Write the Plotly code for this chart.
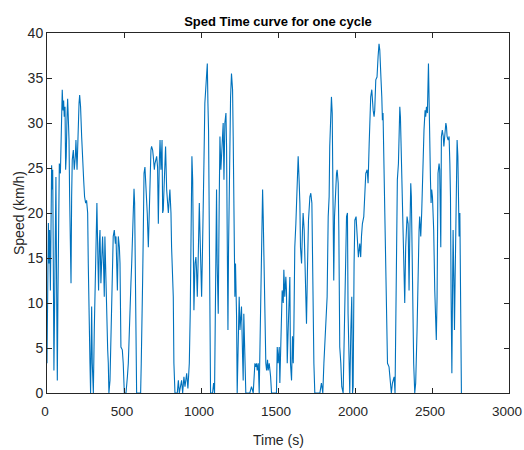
import plotly.graph_objects as go

title_text = "Sped Time curve for one cycle"
x_label = "Time (s)"
y_label = "Speed (km/h)"
x_ticks = [0, 500, 1000, 1500, 2000, 2500, 3000]
y_ticks = [0, 5, 10, 15, 20, 25, 30, 35, 40]

time_s = [
    0, 4, 9, 13, 17, 22, 26, 30, 35, 37, 41, 45, 50, 54, 58, 63, 67, 71, 76, 80,
    87, 91, 95, 99, 104, 108, 112, 117, 121, 125, 130, 134, 138, 143, 147, 151, 156, 160, 164, 171,
    177, 184, 188, 195, 201, 208, 212, 218, 225, 231, 238, 244, 251, 257, 264, 268, 273, 279, 283, 290,
    294, 301, 307, 314, 320, 324, 331, 335, 340, 344, 350, 355, 361, 368, 372, 376, 383, 387, 394, 398,
    402, 409, 415, 420, 426, 430, 437, 444, 448, 457, 463, 470, 474, 480, 489, 495, 502, 513, 522, 528,
    535, 539, 545, 550, 556, 561, 565, 569, 574, 578, 582, 599, 608, 612, 617, 621, 625, 630, 636, 643,
    647, 651, 658, 664, 669, 675, 679, 686, 690, 697, 701, 708, 712, 718, 723, 729, 734, 740, 747, 751,
    755, 762, 770, 777, 783, 788, 798, 805, 809, 816, 820, 824, 831, 846, 853, 859, 868, 874, 881, 889,
    896, 907, 915, 924, 930, 935, 939, 941, 946, 950, 954, 961, 967, 971, 976, 982, 989, 993, 1000, 1004,
    1010, 1015, 1019, 1025, 1032, 1036, 1041, 1045, 1049, 1054, 1058, 1062, 1075, 1082, 1088, 1092, 1097, 1101, 1105, 1112,
    1118, 1123, 1129, 1136, 1140, 1144, 1149, 1155, 1162, 1166, 1170, 1175, 1179, 1183, 1188, 1192, 1198, 1205, 1209, 1214,
    1220, 1224, 1231, 1235, 1242, 1248, 1253, 1259, 1263, 1270, 1274, 1278, 1285, 1291, 1317, 1328, 1339, 1350, 1356, 1361,
    1365, 1372, 1378, 1385, 1389, 1393, 1400, 1404, 1408, 1415, 1421, 1426, 1432, 1436, 1443, 1452, 1458, 1490, 1495, 1501,
    1508, 1512, 1519, 1527, 1534, 1538, 1544, 1551, 1555, 1560, 1566, 1573, 1577, 1581, 1588, 1594, 1599, 1603, 1609, 1616,
    1624, 1631, 1637, 1642, 1646, 1653, 1659, 1663, 1670, 1676, 1685, 1692, 1698, 1707, 1713, 1720, 1724, 1728, 1733, 1739,
    1772, 1782, 1791, 1798, 1804, 1810, 1819, 1826, 1832, 1836, 1843, 1847, 1852, 1854, 1858, 1862, 1867, 1871, 1875, 1880,
    1884, 1891, 1895, 1901, 1908, 1914, 1923, 1929, 1936, 1945, 1951, 1955, 1962, 1966, 1973, 1979, 1984, 1988, 1994, 1999,
    2007, 2016, 2022, 2031, 2037, 2042, 2048, 2057, 2063, 2070, 2079, 2085, 2092, 2096, 2102, 2109, 2113, 2118, 2124, 2128,
    2135, 2143, 2150, 2156, 2161, 2165, 2169, 2174, 2178, 2182, 2187, 2193, 2200, 2204, 2211, 2221, 2230, 2236, 2243, 2247,
    2254, 2260, 2265, 2269, 2275, 2282, 2286, 2291, 2295, 2301, 2308, 2312, 2317, 2323, 2329, 2338, 2345, 2351, 2355, 2362,
    2366, 2373, 2377, 2381, 2388, 2394, 2403, 2410, 2416, 2420, 2427, 2433, 2442, 2448, 2455, 2459, 2464, 2470, 2477, 2481,
    2485, 2490, 2494, 2498, 2503, 2511, 2518, 2524, 2528, 2533, 2539, 2546, 2550, 2557, 2561, 2567, 2573, 2577, 2583, 2590,
    2594, 2598, 2605, 2611, 2616, 2620, 2624, 2629, 2633, 2637, 2642, 2646, 2650, 2655, 2659, 2663, 2668, 2672, 2676, 2681,
    2685, 2689, 2691,
]

speed_kmh = [
    3.3, 8.8, 18.9, 14.4, 18.1, 11.4, 19.6, 25.3, 22.6, 24.8, 14.4, 2.5, 10.7, 21.8, 24.0, 10.7, 1.4, 10.7, 18.5, 25.5,
    24.4, 26.6, 30.7, 33.7, 31.4, 32.5, 30.7, 31.8, 24.8, 26.3, 30.7, 32.7, 30.7, 28.1, 21.8, 15.1, 12.2, 21.8, 25.9, 27.0,
    24.8, 26.3, 28.1, 24.8, 29.2, 32.2, 33.1, 31.8, 28.5, 25.5, 23.7, 21.8, 21.1, 21.4, 20.0, 14.4, 7.0, 3.3, 0.0, 9.6,
    3.3, 0.0, 7.0, 14.4, 19.6, 21.1, 14.4, 11.4, 16.6, 18.1, 12.2, 14.4, 17.4, 13.7, 10.7, 17.4, 10.7, 7.0, 4.8, 3.3,
    0.0, 1.4, 7.0, 10.7, 16.2, 17.4, 18.1, 16.6, 17.4, 11.4, 17.4, 16.2, 14.4, 5.1, 4.8, 3.3, 0.0, 0.0, 1.8, 3.3,
    7.0, 10.7, 12.2, 14.4, 18.1, 20.3, 22.7, 21.1, 14.4, 8.8, 0.0, 0.0, 0.0, 3.3, 7.0, 12.5, 17.4, 24.4, 25.1, 23.3,
    21.8, 20.0, 16.2, 21.1, 25.5, 27.0, 27.4, 27.0, 26.3, 24.8, 25.5, 25.9, 26.3, 25.1, 18.8, 25.5, 28.1, 24.8, 28.1, 20.0,
    20.3, 23.7, 27.4, 22.6, 21.1, 20.0, 22.6, 20.0, 16.2, 13.7, 10.7, 3.3, 0.0, 0.0, 1.4, 0.0, 1.1, 1.4, 0.0, 1.8,
    0.7, 2.2, 0.5, 3.3, 8.8, 14.4, 21.8, 26.3, 23.7, 16.2, 9.2, 14.4, 15.1, 13.7, 10.7, 15.1, 21.1, 18.1, 11.4, 10.7,
    16.2, 20.0, 25.5, 32.2, 33.7, 34.8, 36.6, 32.2, 29.2, 18.1, 5.1, 0.0, 0.0, 1.1, 0.0, 7.0, 14.4, 22.6, 14.4, 8.8,
    20.7, 28.5, 24.8, 27.4, 29.2, 30.0, 23.7, 30.0, 31.1, 27.4, 18.1, 7.0, 16.2, 23.7, 29.2, 32.9, 35.5, 33.7, 28.5, 16.2,
    10.7, 14.4, 8.5, 0.0, 8.8, 10.7, 7.0, 8.5, 9.6, 4.0, 1.4, 8.8, 3.3, 0.0, 0.0, 0.7, 0.0, 3.3, 2.9, 3.3,
    2.5, 3.3, 0.0, 7.0, 14.4, 18.1, 22.6, 19.6, 14.4, 8.8, 3.3, 2.5, 3.7, 2.5, 3.3, 1.8, 0.0, 0.0, 5.1, 3.3,
    5.1, 1.1, 7.0, 11.4, 10.0, 13.7, 10.7, 12.9, 11.4, 3.3, 7.0, 12.2, 12.9, 3.3, 1.4, 6.3, 3.3, 7.0, 16.2, 18.8,
    23.7, 26.3, 23.7, 21.1, 16.2, 14.4, 18.1, 20.0, 18.1, 13.7, 7.7, 14.4, 19.2, 21.8, 22.2, 21.1, 14.4, 6.3, 3.3, 0.0,
    0.0, 1.1, 0.0, 3.3, 5.1, 8.1, 10.7, 19.6, 21.8, 27.4, 32.2, 32.9, 31.1, 25.5, 16.2, 12.5, 19.6, 21.8, 23.7, 24.4,
    24.8, 23.3, 18.1, 5.1, 3.3, 0.7, 0.0, 5.1, 14.4, 19.6, 20.0, 8.8, 3.3, 0.0, 7.0, 10.7, 0.0, 0.7, 14.4, 19.2,
    19.6, 17.4, 15.1, 16.6, 15.1, 17.4, 18.8, 19.6, 21.8, 24.4, 24.8, 23.3, 27.7, 30.0, 32.9, 33.7, 32.2, 31.4, 30.7, 31.4,
    34.8, 35.1, 37.4, 38.8, 38.1, 37.0, 34.8, 32.9, 30.3, 31.1, 25.5, 18.1, 12.5, 8.8, 3.3, 2.9, 1.4, 0.0, 1.1, 1.4,
    1.8, 0.0, 7.0, 14.4, 23.7, 25.5, 31.1, 31.8, 30.7, 25.5, 21.8, 18.1, 14.4, 10.0, 16.2, 19.6, 18.8, 11.4, 16.6, 23.3,
    21.8, 12.2, 8.8, 3.3, 0.0, 1.1, 7.0, 16.2, 18.1, 19.6, 17.4, 20.0, 27.7, 29.2, 31.4, 30.7, 31.8, 31.1, 36.6, 31.1,
    29.2, 23.7, 21.1, 22.6, 21.8, 18.1, 11.4, 7.0, 5.9, 10.7, 24.4, 25.5, 24.8, 16.2, 28.5, 29.2, 28.5, 27.4, 28.8, 30.0,
    29.6, 28.5, 28.1, 28.5, 25.5, 21.8, 10.7, 2.2, 10.7, 18.1, 12.5, 7.0, 12.5, 21.8, 27.4, 28.1, 26.3, 22.6, 17.4, 20.0,
    14.4, 7.0, 0.0,
]

font_family = "Liberation Sans, Arial, sans-serif"
text_color = "#262626"

W, H = 524, 450
plot_l, plot_r, plot_t, plot_b = 47, 509, 33, 393

fig = go.Figure()
fig.add_trace(go.Scatter(
    x=time_s, y=speed_kmh, mode="lines",
    line=dict(color="#0072BD", width=1.1),
    showlegend=False,
))

axis_common = dict(
    showline=True, linecolor=text_color, linewidth=1, mirror="ticks",
    ticks="inside", ticklen=5, tickcolor=text_color,
    showgrid=False, zeroline=False, automargin=False,
    ticklabeloverflow="allow",
)

plot_h = plot_b - plot_t
plot_w = plot_r - plot_l

fig.update_layout(
    width=W, height=H,
    margin=dict(l=plot_l, r=W - plot_r, t=plot_t, b=H - plot_b, autoexpand=False),
    paper_bgcolor="white", plot_bgcolor="white",
    title=dict(text="<b>" + title_text + "</b>", x=278 / W, xanchor="center",
               y=1 - 21 / H, yanchor="middle", automargin=False,
               font=dict(family=font_family, size=13, color="black")),
    xaxis=dict(range=[0, 3000], tickvals=x_ticks, ticklabelstandoff=6, ticklabelshift=-2,
               tickfont=dict(family=font_family, size=13.5, color=text_color),
               **axis_common),
    yaxis=dict(range=[0, 40], tickvals=y_ticks,
               tickfont=dict(family=font_family, size=14, color=text_color),
               **axis_common),
    annotations=[
        dict(text=x_label, xref="paper", yref="paper", x=0.5, y=(plot_b - 440) / plot_h,
             xanchor="center", yanchor="middle", showarrow=False,
             font=dict(family=font_family, size=14, color=text_color)),
        dict(text=y_label, xref="paper", yref="paper", x=(19 - plot_l) / plot_w, y=0.5,
             xanchor="center", yanchor="middle", showarrow=False, textangle=-90,
             font=dict(family=font_family, size=14, color=text_color)),
    ],
)

# Remove the browser's default 8 px page margin so the figure fills the window,
# and hide the hover toolbar.
fig.write_html("out.html", config={"displayModeBar": False},
               post_script="document.body.style.margin='0';")
